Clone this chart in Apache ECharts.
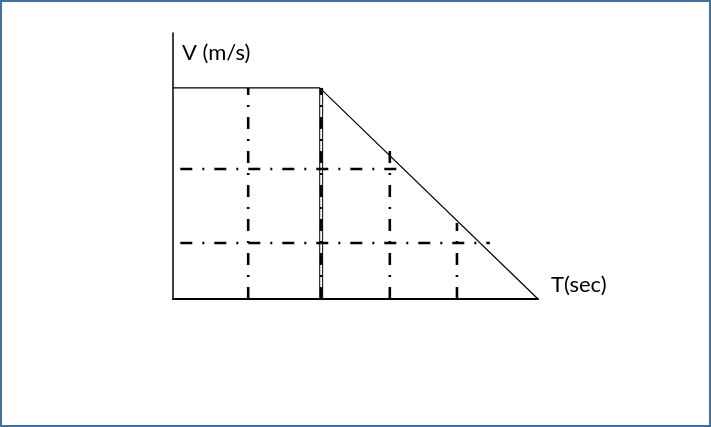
<!DOCTYPE html>
<html>
<head>
<meta charset="utf-8">
<script src="https://cdn.jsdelivr.net/npm/echarts@6/dist/echarts.min.js"></script>
<style>
html,body{margin:0;padding:0;background:#fff;}
#c{width:711px;height:427px;}
</style>
</head>
<body>
<div id="c"></div>
<script>
// Axis titles
var yTitle = 'V (m/s)';
var xTitle = 'T(sec)';
// Velocity profile: T values and V values
var profileT = [0, 2.01, 5];
var profileV = [10, 10, 0];
// Vertical dash-dot lines: T position and height reached
var vLineT = [1.03, 2.03, 2.97, 3.89];
var vLineTop = [10, 10, 7.15, 3.6];
// Solid thin lines at the corner
var cornerT = [2.01, 2.05];
var cornerTop = [10, 10];
// Horizontal dash-dot lines: V level, start T, end T
var hLineV = [6.16, 2.65];
var hLineStart = [0.1, 0.1];
var hLineEnd = [3.15, 4.34];

var chart = echarts.init(document.getElementById('c'), null, {renderer: 'canvas'});
var series = [];
series.push({
  type: 'line', silent: true, symbol: 'none', animation: false,
  data: profileT.map(function (t, i) { return [t, profileV[i]]; }),
  lineStyle: {color: '#000', width: 1.2}
});
cornerT.forEach(function (t, i) {
  series.push({
    type: 'line', silent: true, symbol: 'none', animation: false,
    data: [[t, -0.1], [t, cornerTop[i]]],
    lineStyle: {color: '#000', width: 1}
  });
});
vLineT.forEach(function (t, i) {
  series.push({
    type: 'line', silent: true, symbol: 'none', animation: false,
    data: [[t, 0], [t, vLineTop[i]]],
    lineStyle: {color: '#000', width: 2.6, type: [12, 10, 2, 10]}
  });
});
hLineV.forEach(function (v, i) {
  series.push({
    type: 'line', silent: true, symbol: 'none', animation: false,
    data: [[hLineStart[i], v], [hLineEnd[i], v]],
    lineStyle: {color: '#000', width: 2.6, type: [12, 10, 2, 10]}
  });
});

chart.setOption({
  animation: false,
  backgroundColor: '#fff',
  grid: {left: 173, right: 173, top: 33, bottom: 128, containLabel: false},
  xAxis: {
    type: 'value', min: 0, max: 5,
    axisLine: {show: true, onZero: false, lineStyle: {color: '#000', width: 2}},
    axisTick: {show: false}, axisLabel: {show: false}, splitLine: {show: false}
  },
  yAxis: {
    type: 'value', min: 0, max: 12.6,
    axisLine: {show: true, onZero: false, lineStyle: {color: '#000', width: 1.5}},
    axisTick: {show: false}, axisLabel: {show: false}, splitLine: {show: false}
  },
  graphic: [
    {type: 'rect', shape: {x: 1, y: 1, width: 709, height: 425}, style: {fill: null, stroke: '#41719C', lineWidth: 2}, silent: true},
    {type: 'text', left: 182, top: 42, style: {text: yTitle, fontFamily: 'Lato', fontSize: 22, fill: '#000'}},
    {type: 'text', left: 551, top: 274, style: {text: xTitle, fontFamily: 'Lato', fontSize: 22, fill: '#000'}}
  ],
  series: series
});
</script>
</body>
</html>
